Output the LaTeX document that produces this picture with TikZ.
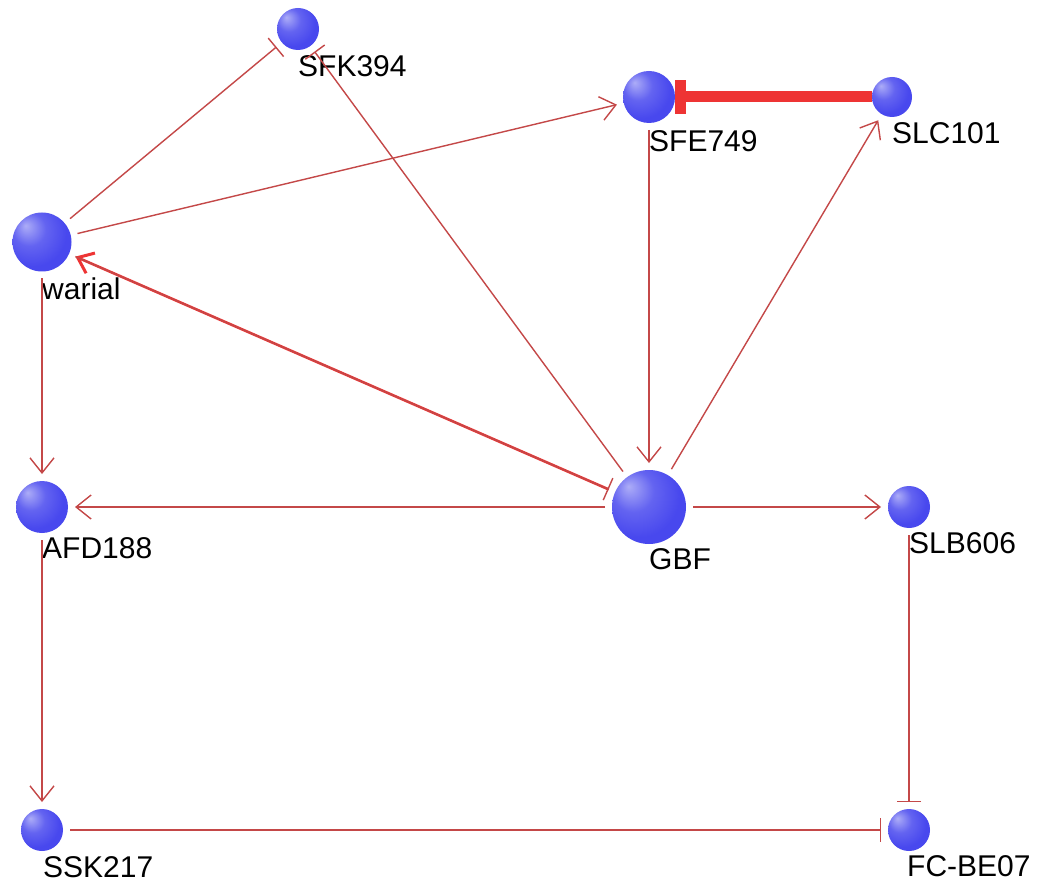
\documentclass[tikz,border=0pt]{standalone}
\usepackage{fontspec}
\setmainfont{Liberation Sans}
\usepackage{xcolor}
\usetikzlibrary{positioning, arrows.meta}

\definecolor{genecol}{RGB}{72,72,238}
\definecolor{linkcol}{RGB}{196,72,72}
\definecolor{strongcol}{RGB}{238,52,52}

% flat blue disc with a soft highlight at the upper left
\pgfdeclareradialshading{genebulb}{\pgfpoint{-14bp}{14bp}}{%
  color(0bp)=(genecol!45!white); color(14bp)=(genecol!85!white);
  color(28bp)=(genecol); color(60bp)=(genecol)}

\begin{document}
\begin{tikzpicture}[
  x=1pt, y=-1pt,
  gene/.style={circle, inner sep=0pt, outer sep=0pt, shading=genebulb},
  lbl/.style={inner sep=0pt, font=\fontsize{30}{31}\selectfont, text=black},
  link/.style={draw=linkcol, line width=1.4pt, shorten <=7pt, shorten >=7pt},
  act/.style={link, -{Straight Barb[length=15pt, width=24pt]}},
  inh/.style={link, -{Bar[width=24pt]}},
  strongact/.style={draw=strongcol, line width=2.6pt, shorten <=7pt, shorten >=7pt, -{Straight Barb[length=14pt, width=22pt, line width=3pt]}},
  stronginh/.style={draw=strongcol, line width=11pt, -{Bar[width=34pt]}}
]
\useasboundingbox[fill=white] (0,0) rectangle (1041,885);

\node[gene, minimum size=42pt] (sfk) at (298,29) {};
\node[gene, minimum size=52pt] (sfe) at (649,97) {};
\node[gene, minimum size=40pt] (slc) at (892,97) {};
\node[gene, minimum size=59pt] (warial) at (42,242) {};
\node[gene, minimum size=52pt] (afd) at (42,507) {};
\node[gene, minimum size=74pt] (gbf) at (649,507) {};
\node[gene, minimum size=42pt] (slb) at (909,507) {};
\node[gene, minimum size=42pt] (ssk) at (42,830) {};
\node[gene, minimum size=42pt] (fcbe) at (909,830) {};

\node[lbl, below right=5pt and 0pt of sfk.south] (lsfk) {SFK394};
\node[lbl, below right=7pt and 0pt of sfe.south] (lsfe) {SFE749};
\node[lbl, below right=5pt and 0pt of slc.south] (lslc) {SLC101};
\node[lbl, below right=6pt and 0pt of warial.south] (lwarial) {warial};
\node[lbl, below right=4pt and 0pt of afd.south] (lafd) {AFD188};
\node[lbl, below right=4pt and 0pt of gbf.south] (lgbf) {GBF};
\node[lbl, below right=4pt and 0pt of slb.south] (lslb) {SLB606};
\node[lbl, below right=5pt and 1pt of ssk.south] (lssk) {SSK217};
\node[lbl, below right=4pt and -2pt of fcbe.south] (lfcbe) {FC-BE07};

\draw[inh] (warial) -- (sfk);
\draw[act] (warial) -- (sfe);
\draw[inh] (gbf) -- (sfk);
\draw[strongact] (gbf) -- (warial);
\draw[inh] (warial) -- (gbf);
\draw[act] (sfe) -- (gbf);
\draw[act] (gbf) -- (slc);
\draw[stronginh] (slc.west) -- (sfe.east);
\draw[act] (warial) -- (afd);
\draw[act] (gbf) -- (afd);
\draw[act] (gbf) -- (slb);
\draw[inh] (slb) -- (fcbe);
\draw[act] (afd) -- (ssk);
\draw[inh] (ssk) -- (fcbe);
\end{tikzpicture}
\end{document}
